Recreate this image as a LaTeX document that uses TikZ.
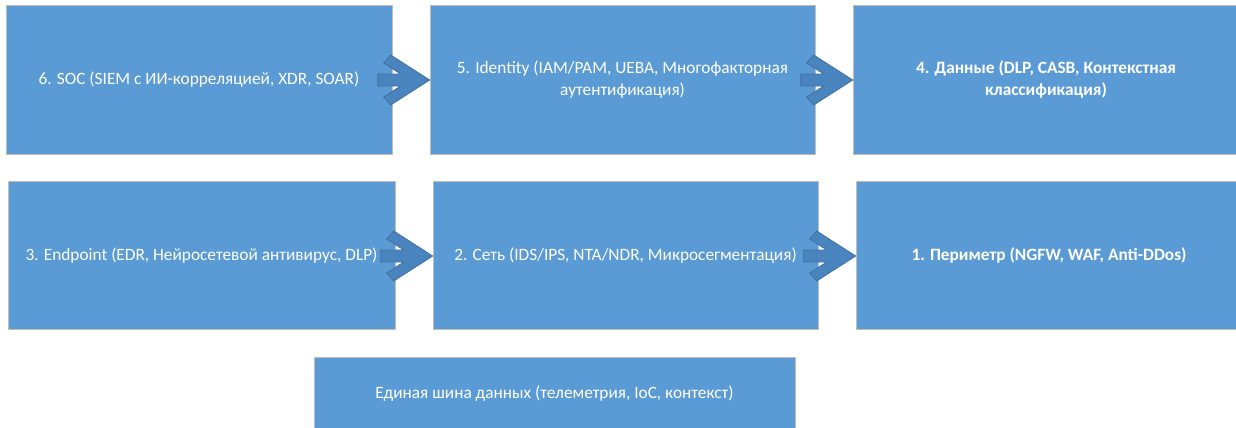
\documentclass[tikz,border=0pt]{standalone}
\usepackage{fontspec}
\setmainfont{Carlito}
\definecolor{boxblue}{RGB}{91,155,213}
\definecolor{arrowfill}{RGB}{74,132,190}
\definecolor{arrowline}{RGB}{65,113,156}
\definecolor{edgegrey}{RGB}{190,190,190}
\tikzset{
  box/.style={rectangle, fill=boxblue, draw=edgegrey, line width=0.6pt,
    text=white, align=center, inner sep=0pt, font=\fontsize{17.3}{22}\selectfont},
  boldbox/.style={box, font=\fontsize{17.3}{22}\selectfont\bfseries},
  blockarrow/.style={fill=arrowfill, draw=arrowline, line width=0.8pt, line join=miter}
}
\newcommand{\chevarrow}[1]{%
  \draw[blockarrow] (#1) -- ++(-39,-25) -- ++(-7,8) -- ++(17,11) -- ++(-23,0)
    -- ++(0,12) -- ++(23,0) -- ++(-17,11) -- ++(7,8) -- cycle;}
\begin{document}
\begin{tikzpicture}[x=1pt,y=-1pt]
\useasboundingbox (0,0) rectangle (1236,428);
\clip (0,0) rectangle (1236,428);
\fill[white] (0,0) rectangle (1236,428);
% row 1
\node[box, minimum width=386, minimum height=149] (b6) at (199,79.5)
  {6. SOC (SIEM с ИИ-корреляцией, XDR, SOAR)};
\node[box, minimum width=385, minimum height=149] (b5) at (622.5,79.5)
  {5. Identity (IAM/PAM, UEBA, Многофакторная\\аутентификация)};
\node[boldbox, minimum width=386, minimum height=149] (b4) at (1046,79.5)
  {4. Данные (DLP, CASB, Контекстная\\классификация)};
% row 2
\node[box, minimum width=387, minimum height=148] (b3) at (201.5,255.5)
  {3. Endpoint (EDR, Нейросетевой антивирус, DLP)};
\node[box, minimum width=385, minimum height=148] (b2) at (625.5,255.5)
  {2. Сеть (IDS/IPS, NTA/NDR, Микросегментация)};
\node[boldbox, minimum width=386, minimum height=148] (b1) at (1049,255.5)
  {1. Периметр (NGFW, WAF, Anti-DDos)};
% bus
\node[box, minimum width=481, minimum height=74] (bus) at (554.5,394)
  {Единая шина данных (телеметрия, IoC, контекст)};
% arrows
\coordinate (t65) at ([yshift=-0.5]b5.west);
\coordinate (t54) at ([yshift=-0.5]b4.west);
\coordinate (t32) at ([yshift=-0.5]b2.west);
\coordinate (t21) at ([yshift=-0.5]b1.west);
\chevarrow{t65}
\chevarrow{t54}
\chevarrow{t32}
\chevarrow{t21}
\end{tikzpicture}
\end{document}
